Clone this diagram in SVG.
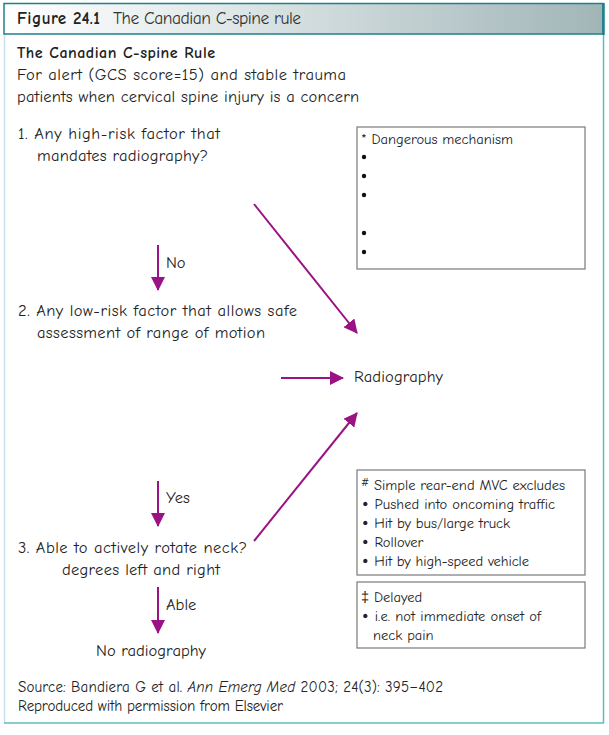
<svg xmlns="http://www.w3.org/2000/svg" width="609" height="735" viewBox="0 0 609 735">
<defs>
<linearGradient id="hdr" x1="0" y1="0" x2="1" y2="0">
<stop offset="0" stop-color="#ffffff"/>
<stop offset="0.35" stop-color="#e2e9ea"/>
<stop offset="1" stop-color="#a1b5b7"/>
</linearGradient>
<marker id="ah" markerWidth="14" markerHeight="14" viewBox="0 0 14 14" refX="13" refY="7" orient="auto" markerUnits="userSpaceOnUse">
<path d="M0,0 L14,7 L0,14 Z" fill="#9a1283"/>
</marker>
<style>
text{font-family:"Comic Neue","Liberation Sans","DejaVu Sans",sans-serif;fill:#222;}
.t{font-size:16.5px;}
.s{font-size:14.5px;}
.f{font-size:15px;}
.b{font-weight:bold;}
.bul{font-family:"DejaVu Sans",sans-serif;}
.box{fill:#fff;stroke:#7a7a7a;stroke-width:1.2;}
.con{stroke:#9a1283;stroke-width:2;fill:none;marker-end:url(#ah);}
</style>
</defs>
<rect x="0" y="0" width="609" height="735" fill="#fff"/>
<g id="frame">
<line x1="4.5" y1="34" x2="4.5" y2="723" stroke="#c9e2ea" stroke-width="1.5"/>
<line x1="603.5" y1="34" x2="603.5" y2="723" stroke="#5bbcc2" stroke-width="1.5"/>
<line x1="4" y1="723" x2="604" y2="723" stroke="#5bbcc2" stroke-width="1.5"/>
<rect x="4" y="3.5" width="599" height="30.5" fill="url(#hdr)" stroke="#1f7f8c" stroke-width="1.5"/>
<line x1="603.5" y1="3" x2="603.5" y2="35" stroke="#1f7f8c" stroke-width="2.5"/>
<text x="17" y="24" style="font-size:17px;font-weight:bold;" textLength="83">Figure 24.1</text>
<text x="113" y="24" style="font-size:17.5px;fill:#333;" textLength="188">The Canadian C-spine rule</text>
</g>
<g id="intro">
<text x="17" y="58" class="b" style="font-size:16px" textLength="198">The Canadian C-spine Rule</text>
<text x="17" y="80" class="t" textLength="329">For alert (GCS score=15) and stable trauma</text>
<text x="17" y="102" class="t" textLength="342">patients when cervical spine injury is a concern</text>
</g>
<g id="q1">
<text x="18" y="139" class="t" textLength="202">1.  Any high-risk factor that</text>
<text x="37" y="161" class="t" textLength="171">mandates radiography?</text>
</g>
<g id="q2">
<text x="18" y="316" class="t" textLength="279">2. Any low-risk factor that allows safe</text>
<text x="37" y="338" class="t" textLength="228">assessment of range of motion</text>
</g>
<g id="radiography">
<text x="354" y="382" class="t" textLength="89">Radiography</text>
</g>
<g id="q3">
<text x="18" y="553" class="t" textLength="229">3. Able to actively rotate neck?</text>
<text x="62" y="575" class="t" textLength="158">degrees left and right</text>
</g>
<g id="noradiography">
<text x="96" y="656" class="t" textLength="110">No radiography</text>
</g>
<g id="box-dangerous">
<rect x="357" y="127" width="228" height="142" class="box"/>
<text x="361" y="144" class="s" textLength="152">* Dangerous mechanism</text>
<circle cx="364" cy="157" r="2.2" fill="#111"/>
<circle cx="364" cy="176" r="2.2" fill="#111"/>
<circle cx="364" cy="195" r="2.2" fill="#111"/>
<circle cx="364" cy="233" r="2.2" fill="#111"/>
<circle cx="364" cy="252" r="2.2" fill="#111"/>
</g>
<g id="box-mvc">
<rect x="357" y="470" width="228" height="105" class="box"/>
<text x="361" y="490" class="s" textLength="204"><tspan font-size="11" dy="-4">#</tspan><tspan dy="4"> Simple rear-end MVC excludes</tspan></text>
<text x="361" y="509" class="s" textLength="194"><tspan class="bul">•</tspan> Pushed into oncoming traffic</text>
<text x="361" y="528" class="s" textLength="149"><tspan class="bul">•</tspan> Hit by bus/large truck</text>
<text x="361" y="547" class="s"><tspan class="bul">•</tspan> Rollover</text>
<text x="361" y="566" class="s" textLength="168"><tspan class="bul">•</tspan> Hit by high-speed vehicle</text>
</g>
<g id="box-delayed">
<rect x="357" y="582" width="228" height="66" class="box"/>
<text x="361" y="602" class="s">‡ Delayed</text>
<text x="361" y="621" class="s" textLength="180"><tspan class="bul">•</tspan> i.e. not immediate onset of</text>
<text x="373" y="640" class="s">neck pain</text>
</g>
<g id="connectors">
<line x1="254" y1="204" x2="357" y2="333" class="con"/>
<line x1="158" y1="245" x2="158" y2="290" class="con"/>
<line x1="281" y1="378" x2="343" y2="378" class="con"/>
<line x1="254" y1="541" x2="357" y2="413" class="con"/>
<line x1="158" y1="481" x2="158" y2="526" class="con"/>
<line x1="158" y1="587" x2="158" y2="633" class="con"/>
<text x="166" y="268" class="t">No</text>
<text x="166" y="503" class="t">Yes</text>
<text x="166" y="610" class="t">Able</text>
</g>
<g id="source">
<text x="18" y="692" class="f" textLength="425">Source: Bandiera G et al. <tspan font-style="italic">Ann Emerg Med</tspan> 2003; 24(3): 395–402</text>
<text x="18" y="711" class="f" textLength="265">Reproduced with permission from Elsevier</text>
</g>
</svg>
